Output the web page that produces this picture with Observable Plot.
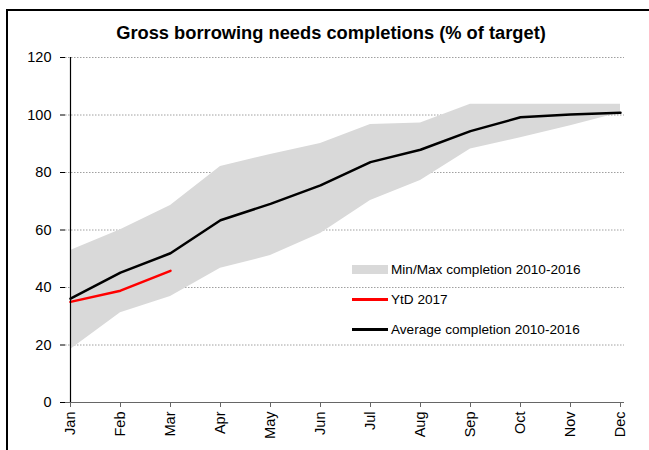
<!DOCTYPE html>
<html>
<head>
<meta charset="utf-8">
<script src="https://cdn.jsdelivr.net/npm/d3@7"></script>
<script src="https://cdn.jsdelivr.net/npm/@observablehq/plot@0.6"></script>
<style>
  body { margin: 0; background: #fff; font-family: "Liberation Sans", Arial, sans-serif; }
  #wrap { position: relative; width: 649px; height: 450px; overflow: hidden; }
  #frame { position: absolute; left: 6px; top: 9px; width: 700px; height: 500px; border-top: 2px solid #000; border-left: 2px solid #000; pointer-events: none; }
  #chart { position: absolute; left: 0; top: 0; }
  .legend { position: absolute; left: 352px; font-size: 13.6px; color: #000; }
  .legend .row { position: absolute; left: 0; white-space: nowrap; display: flex; align-items: center; }
  .legend .sw { width: 36px; display: inline-block; margin-right: 3px; }
</style>
</head>
<body>
<div id="wrap">
  <div id="chart"></div>
  <div id="frame"></div>
  <div class="legend" id="legend"></div>
</div>
<script>
const months = ["Jan","Feb","Mar","Apr","May","Jun","Jul","Aug","Sep","Oct","Nov","Dec"];
const avgCompletion = [36.1, 45.2, 51.9, 63.4, 69.1, 75.5, 83.6, 87.9, 94.4, 99.2, 100.2, 100.8];
const maxCompletion = [52.9, 60.1, 68.5, 82.1, 86.3, 90.1, 96.7, 97.2, 103.7, 103.7, 103.7, 103.7];
const minCompletion = [18.4, 31.2, 36.9, 46.7, 51.1, 58.8, 70.3, 77.2, 88.2, 92.1, 96.3, 100.8];
const ytd2017 = [35.0, 38.9, 45.8];
const yTicks = [0, 20, 40, 60, 80, 100, 120];
const title = "Gross borrowing needs completions (% of target)";
const legendItems = [
  {label: "Min/Max completion 2010-2016", kind: "area", color: "#d9d9d9"},
  {label: "YtD 2017", kind: "line", color: "#ff0000"},
  {label: "Average completion 2010-2016", kind: "line", color: "#000000"}
];

const band = months.map((m, i) => ({month: m, min: minCompletion[i], max: maxCompletion[i]}));
const avg = months.map((m, i) => ({month: m, value: avgCompletion[i]}));
const ytd = ytd2017.map((v, i) => ({month: months[i], value: v}));

const chart = Plot.plot({
  width: 649,
  height: 450,
  marginLeft: 65,
  marginRight: 25,
  marginTop: 57,
  marginBottom: 48,
  style: {fontFamily: "'Liberation Sans', Arial, sans-serif", fontSize: "14.5px", background: "transparent", color: "#000"},
  x: {type: "point", domain: months, padding: 0},
  y: {domain: [0, 120]},
  marks: [
    Plot.gridY(yTicks.filter(t => t > 0), {stroke: "#a0a0a0", strokeOpacity: 1, strokeDasharray: "1.5,1.5", strokeWidth: 1}),
    Plot.areaY(band, {x: "month", y1: "min", y2: "max", fill: "#d9d9d9", curve: "linear"}),
    Plot.line(avg, {x: "month", y: "value", stroke: "#000", strokeWidth: 2.5}),
    Plot.line(ytd, {x: "month", y: "value", stroke: "#ff0000", strokeWidth: 2.5}),
    Plot.ruleY([0], {stroke: "#666", strokeWidth: 1.2}),
    Plot.ruleX([months[0]], {y1: 0, y2: 120, stroke: "#000", strokeWidth: 1.2}),
    Plot.axisY({ticks: yTicks, tickSize: 5, tickPadding: 9, stroke: "#000", fontSize: 14.5, label: null}),
    Plot.axisX({tickSize: 5, tickRotate: -90, tickPadding: 4, stroke: "#666", fontSize: 14.5, label: null}),
    Plot.text([title], {frameAnchor: "top", lineAnchor: "middle", dx: -14, dy: -24, fontWeight: "bold", fontSize: 18.3, fill: "#000"})
  ]
});
document.getElementById("chart").appendChild(chart);

const legend = document.getElementById("legend");
const rowTops = [262, 292, 322];
legendItems.forEach((it, i) => {
  const row = document.createElement("div");
  row.className = "row";
  row.style.top = rowTops[i] + "px";
  const sw = document.createElement("span");
  sw.className = "sw";
  if (it.kind === "area") { sw.style.height = "9px"; sw.style.background = it.color; }
  else { sw.style.height = "2.5px"; sw.style.background = it.color; }
  row.appendChild(sw);
  const t = document.createElement("span");
  t.textContent = it.label;
  row.appendChild(t);
  legend.appendChild(row);
});
</script>
</body>
</html>
